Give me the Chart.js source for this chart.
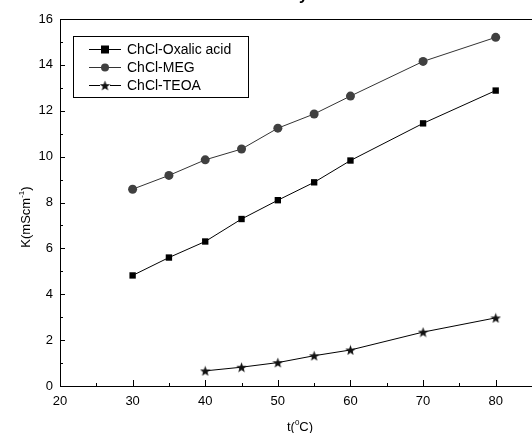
<!DOCTYPE html>
<html>
<head>
<meta charset="utf-8">
<script src="https://cdn.jsdelivr.net/npm/chart.js@4/dist/chart.umd.min.js"></script>
<style>
  html, body { margin: 0; padding: 0; background: #fff; }
  canvas { display: block; }
</style>
</head>
<body>
<canvas id="my-chart" width="532" height="433"></canvas>
<script>
'use strict';

// data
let temps = [30, 35, 40, 45, 50, 55, 60, 70, 80];
let tempsTeoa = [40, 45, 50, 55, 60, 70, 80];
let oxalic = [4.82, 5.6, 6.3, 7.28, 8.1, 8.88, 9.83, 11.45, 12.88];
let meg = [8.58, 9.18, 9.86, 10.33, 11.24, 11.86, 12.64, 14.15, 15.2];
let teoa = [0.66, 0.82, 1.02, 1.32, 1.57, 2.35, 2.97];
let seriesNames = ['ChCl-Oxalic acid', 'ChCl-MEG', 'ChCl-TEOA'];
let xTicks = [20, 30, 40, 50, 60, 70, 80];
let yTicks = [0, 2, 4, 6, 8, 10, 12, 14, 16];

const FONT = '"Liberation Sans", Arial, sans-serif';

function toPoints(xs, ys) {
  let pts = [];
  for (let i = 0; i < xs.length; i++) {
    pts.push({ x: xs[i], y: ys[i] });
  }
  return pts;
}

// filled five point star for the TEOA markers
function makeStar(size, color) {
  let c = document.createElement('canvas');
  c.width = size;
  c.height = size;
  let g = c.getContext('2d');
  let cx = size / 2, cy = size / 2 + 0.5;
  let outer = size / 2, inner = outer * 0.42;
  g.beginPath();
  for (let i = 0; i < 10; i++) {
    let r = i % 2 === 0 ? outer : inner;
    let a = -Math.PI / 2 + i * Math.PI / 5;
    let px = cx + r * Math.cos(a);
    let py = cy + r * Math.sin(a);
    if (i === 0) g.moveTo(px, py); else g.lineTo(px, py);
  }
  g.closePath();
  g.fillStyle = color;
  g.fill();
  return c;
}

let starImg = makeStar(11, '#111');

// text with a small raised part, e.g. K(mScm^-1)
function drawSup(ctx, parts, cx, y, size) {
  ctx.font = size + 'px ' + FONT;
  let wa = ctx.measureText(parts[0]).width;
  let wc = ctx.measureText(parts[2]).width;
  ctx.font = Math.round(size * 0.65) + 'px ' + FONT;
  let wb = ctx.measureText(parts[1]).width;
  let sx = cx - (wa + wb + wc) / 2;
  ctx.textAlign = 'left';
  ctx.font = size + 'px ' + FONT;
  ctx.fillText(parts[0], sx, y);
  ctx.font = Math.round(size * 0.65) + 'px ' + FONT;
  ctx.fillText(parts[1], sx + wa, y - size * 0.5);
  ctx.font = size + 'px ' + FONT;
  ctx.fillText(parts[2], sx + wa + wb, y);
}

// ticks pointing inward, top frame line, axis titles, legend
const decorations = {
  id: 'decorations',
  afterDraw(chart) {
    let ctx = chart.ctx;
    let area = chart.chartArea;
    let xs = chart.scales.x;
    let ys = chart.scales.y;
    ctx.save();
    ctx.strokeStyle = '#000';
    ctx.lineWidth = 1;

    // frame top
    ctx.beginPath();
    ctx.moveTo(area.left, area.top + 0.5);
    ctx.lineTo(area.right, area.top + 0.5);
    ctx.stroke();

    // y ticks, major every 2, minor every 1
    for (let v = 0; v <= 16; v++) {
      let py = Math.round(ys.getPixelForValue(v)) + 0.5;
      let len = v % 2 === 0 ? 5 : 3;
      ctx.beginPath();
      ctx.moveTo(area.left, py);
      ctx.lineTo(area.left + len, py);
      ctx.stroke();
    }
    // x ticks, major every 10, minor every 5
    for (let v = 20; v <= 85; v += 5) {
      let px = Math.round(xs.getPixelForValue(v)) + 0.5;
      let len = v % 10 === 0 ? 6 : 3;
      ctx.beginPath();
      ctx.moveTo(px, area.bottom);
      ctx.lineTo(px, area.bottom - len);
      ctx.stroke();
    }

    // axis titles with superscripts
    ctx.fillStyle = '#000';
    ctx.textBaseline = 'alphabetic';
    drawSup(ctx, ['t(', '0', 'C)'], 300, 431, 13);

    ctx.save();
    ctx.translate(30, 217);
    ctx.rotate(-Math.PI / 2);
    drawSup(ctx, ['K(mScm', '-1', ')'], 0, 0, 13);
    ctx.restore();

    // legend box
    ctx.strokeRect(73.5, 36.5, 175, 61);
    ctx.font = '14px ' + FONT;
    ctx.textAlign = 'left';
    ctx.textBaseline = 'middle';
    for (let i = 0; i < chart.data.datasets.length; i++) {
      let ds = chart.data.datasets[i];
      let ly = 49 + i * 18;
      ctx.strokeStyle = ds.borderColor;
      ctx.beginPath();
      ctx.moveTo(89, ly + 0.5);
      ctx.lineTo(121, ly + 0.5);
      ctx.stroke();
      ctx.fillStyle = ds.pointBackgroundColor;
      if (ds.pointStyle === 'rect') {
        ctx.fillRect(101, ly - 3.5, 8, 8);
      } else if (ds.pointStyle === 'circle') {
        ctx.beginPath();
        ctx.arc(105, ly + 0.5, 4, 0, Math.PI * 2);
        ctx.fill();
      } else {
        ctx.fillStyle = '#fff';
        ctx.fillRect(100, ly - 4, 10, 10);
        ctx.drawImage(starImg, 99.5, ly - 5, 11, 11);
      }
      ctx.fillStyle = '#000';
      ctx.fillText(ds.label, 127, ly + 1);
    }

    // title sitting above the visible area
    ctx.font = 'bold 16px ' + FONT;
    ctx.textAlign = 'right';
    ctx.textBaseline = 'alphabetic';
    ctx.fillText('Conductivity', 308, -0.5);

    ctx.restore();
  }
};

let chartObject = {
  type: 'line',
  data: {
    datasets: [{
      label: seriesNames[0],
      data: toPoints(temps, oxalic),
      borderColor: '#000',
      borderWidth: 1,
      pointStyle: 'rect',
      pointRadius: 4.5,
      pointBackgroundColor: '#000',
      pointBorderColor: '#000',
      pointBorderWidth: 0
    },
    {
      label: seriesNames[1],
      data: toPoints(temps, meg),
      borderColor: '#333',
      borderWidth: 1,
      pointStyle: 'circle',
      pointRadius: 4.5,
      pointBackgroundColor: '#404040',
      pointBorderColor: '#404040',
      pointBorderWidth: 0
    },
    {
      label: seriesNames[2],
      data: toPoints(tempsTeoa, teoa),
      borderColor: '#000',
      borderWidth: 1,
      pointStyle: starImg,
      pointRadius: 5.5,
      pointBackgroundColor: '#111',
      pointBorderColor: '#111'
    }]
  },
  options: {
    responsive: false,
    animation: false,
    events: [],
    clip: false,
    layout: { autoPadding: false, padding: { left: 0, right: -1, top: 19, bottom: 0 } },
    plugins: {
      legend: { display: false },
      tooltip: { enabled: false }
    },
    scales: {
      x: {
        type: 'linear',
        min: 20,
        max: 85,
        afterFit(scale) {
          scale.height = 47;
          scale.paddingLeft = 0;
          scale.paddingRight = 0;
        },
        afterBuildTicks(scale) { scale.ticks = xTicks.map(v => ({ value: v })); },
        grid: { display: false, drawTicks: false },
        border: { display: true, color: '#000', width: 1 },
        ticks: {
          color: '#000',
          font: { family: FONT, size: 13 },
          padding: 8,
          maxRotation: 0
        }
      },
      y: {
        type: 'linear',
        min: 0,
        max: 16,
        afterFit(scale) {
          scale.width = 60;
          scale.paddingTop = 0;
          scale.paddingBottom = 0;
        },
        afterBuildTicks(scale) { scale.ticks = yTicks.map(v => ({ value: v })); },
        grid: { display: false, drawTicks: false },
        border: { display: true, color: '#000', width: 1 },
        ticks: {
          color: '#000',
          font: { family: FONT, size: 13 },
          padding: 7
        }
      }
    }
  },
  plugins: [decorations]
};

let ctx = document.getElementById('my-chart');
const myChart = new Chart(ctx, chartObject);
</script>
</body>
</html>
